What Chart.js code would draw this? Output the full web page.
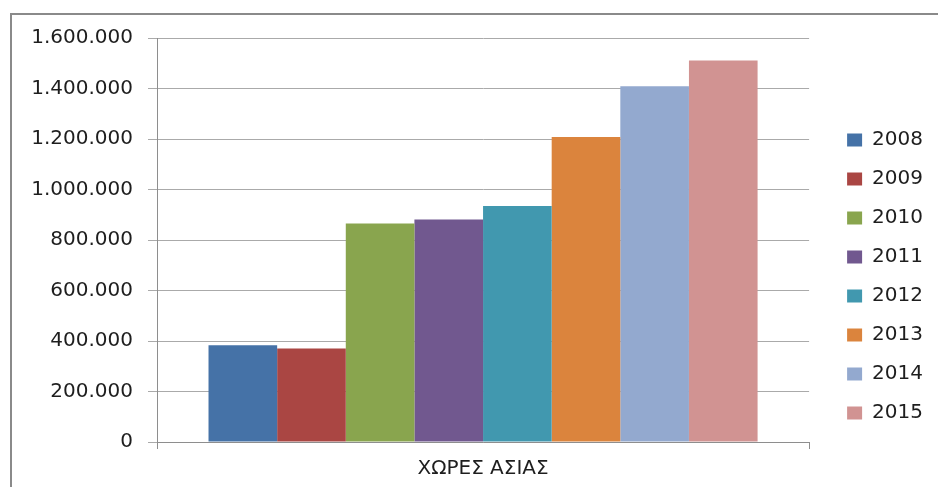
<!DOCTYPE html>
<html>
<head>
<meta charset="utf-8">
<script src="https://cdn.jsdelivr.net/npm/chart.js@4.4.1/dist/chart.umd.min.js"></script>
<style>
    html, body { margin: 0; padding: 0; background: #fff; overflow: hidden; }
    #frame { position: absolute; left: 10px; top: 13px; width: 1000px; height: 600px; border: 2px solid #8a8a8a; }
    #wrap { position: absolute; left: 0; top: 0; width: 938px; height: 487px; }
</style>
</head>
<body>
<div id="frame"></div>
<div id="wrap"><canvas id="chart"></canvas></div>
<script>
const categories = ['ΧΩΡΕΣ ΑΣΙΑΣ'];
const years = ['2008', '2009', '2010', '2011', '2012', '2013', '2014', '2015'];
const values = [383000, 370000, 865000, 881000, 935000, 1208000, 1409000, 1511000];
const colors = ['#4572A7', '#AA4643', '#89A54E', '#71588F', '#4198AF', '#DB843D', '#93A9CF', '#D19392'];

const yMin = 0;
const yMax = 1600000;
const yStep = 200000;

// 1600000 -> "1.600.000"
const formatNumber = v => String(v).replace(/\B(?=(\d{3})+(?!\d))/g, '.');

const textColor = '#1e1e1e';
const gridColor = '#aaaaaa';
const axisColor = '#8e8e8e';

Chart.defaults.font.family = "'DejaVu Sans', sans-serif";
Chart.defaults.font.size = 20;
Chart.defaults.color = textColor;

const datasets = years.map((year, i) => ({
    label: year,
    data: [values[i]],
    backgroundColor: colors[i],
    borderWidth: 0
}));

new Chart(document.getElementById('chart'), {
    type: 'bar',
    data: {
        labels: categories,
        datasets: datasets
    },
    options: {
        responsive: true,
        maintainAspectRatio: false,
        animation: false,
        layout: {
            padding: { top: 38, left: 0, right: 5, bottom: 0 }
        },
        datasets: {
            bar: { categoryPercentage: 0.842, barPercentage: 1 }
        },
        plugins: {
            tooltip: { enabled: false },
            legend: {
                position: 'right',
                align: 'end',
                fullSize: false,
                labels: {
                    boxWidth: 15,
                    boxHeight: 13,
                    padding: 19,
                    color: textColor,
                    font: { size: 20 }
                }
            }
        },
        scales: {
            x: {
                grid: { drawOnChartArea: false, tickLength: 7, color: axisColor },
                border: { color: axisColor },
                ticks: { padding: 8, color: textColor },
                afterFit: s => { s.height = 45; }
            },
            y: {
                min: yMin,
                max: yMax,
                ticks: { stepSize: yStep, padding: 15, color: textColor, callback: v => formatNumber(v) },
                grid: { tickLength: 9, color: gridColor },
                border: { color: axisColor },
                afterFit: s => { s.width = 157; }
            },
            // empty axis keeping a gap between the plot and the legend
            gap: {
                position: 'right',
                grid: { display: false },
                border: { display: false },
                ticks: { display: false },
                afterFit: s => { s.width = 19; }
            }
        }
    }
});
</script>
</body>
</html>
